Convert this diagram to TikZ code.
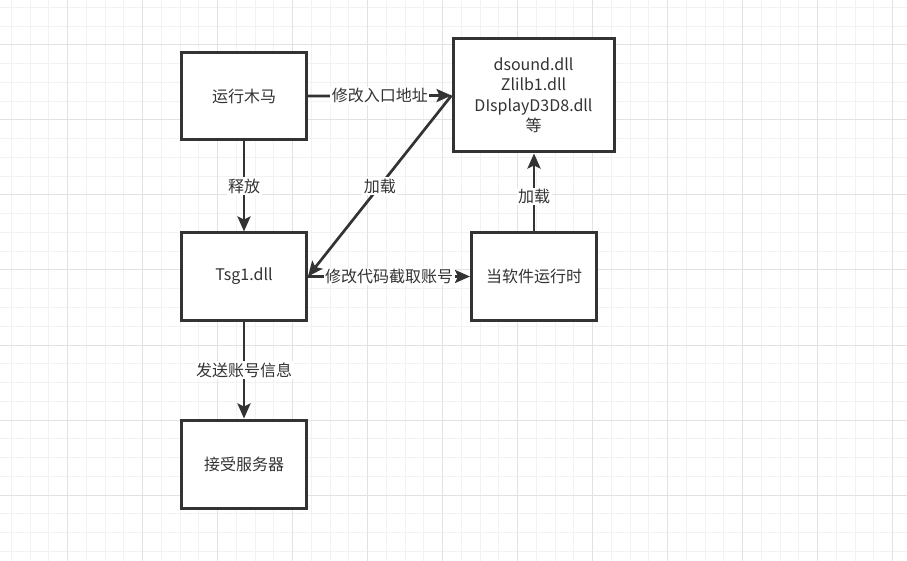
\documentclass[tikz,border=0pt]{standalone}
\usepackage{fontspec}
\newfontfamily\cjk{Noto Sans CJK SC}
\usetikzlibrary{arrows.meta}
\definecolor{gridminor}{HTML}{F2F2F2}
\definecolor{gridmajor}{HTML}{E2E2E2}
\definecolor{ink}{HTML}{333333}
\begin{document}
\begin{tikzpicture}[x=1pt,y=-1pt,
  box/.style={draw=ink, line width=3pt, fill=white, minimum width=125pt, minimum height=87pt,
    inner sep=0pt, font=\cjk\fontsize{16}{20.5}\selectfont, text=ink, align=center},
  conn/.style={draw=ink, line width=2.7pt, -{Stealth[length=15pt,width=13pt,inset=3pt]}},
  lab/.style={fill=white, inner sep=1.5pt, font=\cjk\fontsize{16}{19}\selectfont, text=ink}
]
\useasboundingbox (0,0) rectangle (907,561);
\fill[white] (0,0) rectangle (907,561);
\foreach \i in {0,...,48} {\draw[gridminor, line width=1pt] ({11.45+18.75*\i},0) -- ++(0,561);}
\foreach \i in {0,...,29} {\draw[gridminor, line width=1pt] (0,{7.5+18.75*\i}) -- ++(907,0);}
\foreach \i in {0,...,12} {\draw[gridmajor, line width=1pt] ({-7.3+75*\i},0) -- ++(0,561);}
\foreach \i in {0,...,7} {\draw[gridmajor, line width=1pt] (0,{45+75*\i}) -- ++(907,0);}

\node[box] (A) at (244,96) {运行木马};
\node[box, minimum width=161pt, minimum height=113pt] (B) at (533.5,95.5)
  {dsound.dll\\Zlilb1.dll\\DIsplayD3D8.dll\\等};
\node[box] (D) at (244,276.5) {Tsg1.dll};
\node[box] (C) at (534,276.5) {当软件运行时};
\node[box, minimum height=88pt] (E) at (244,464) {接受服务器};

\draw[conn] (A.east) -- (B.west) node[lab, pos=0.5] (l1) {修改入口地址};
\draw[conn] (A.south) -- (D.north) node[lab, pos=0.5] (l2) {释放};
\draw[conn] (B.west) -- (D.east) node[lab, pos=0.5] (l3) {加载};
\draw[conn] (D.east) -- (C.west) node[lab, pos=0.5] (l4) {修改代码截取账号};
\draw[conn] (C.north) -- (C.north |- B.south) node[lab, pos=0.45] (l5) {加载};
\draw[conn] (D.south) -- (E.north) node[lab, pos=0.5] (l6) {发送账号信息};
\end{tikzpicture}
\end{document}
